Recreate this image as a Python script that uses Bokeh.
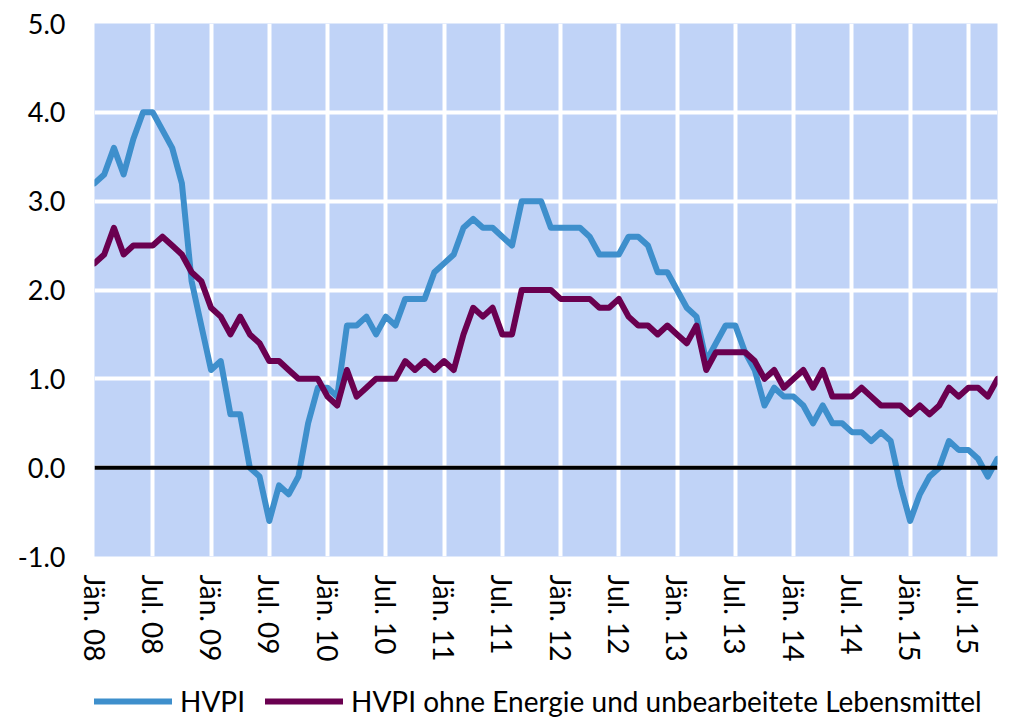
import math
from bokeh.plotting import figure
from bokeh.layouts import column
from bokeh.models import FixedTicker, Span, Legend, LegendItem, Range1d
from bokeh.embed import file_html
from bokeh.resources import INLINE

# Monthly values, Jan 2008 - Oct 2015 (annual change in %)
hvpi = [
    3.2, 3.3, 3.6, 3.3, 3.7, 4.0, 4.0, 3.8, 3.6, 3.2, 2.1, 1.6,
    1.1, 1.2, 0.6, 0.6, 0.0, -0.1, -0.6, -0.2, -0.3, -0.1, 0.5, 0.9,
    0.9, 0.8, 1.6, 1.6, 1.7, 1.5, 1.7, 1.6, 1.9, 1.9, 1.9, 2.2,
    2.3, 2.4, 2.7, 2.8, 2.7, 2.7, 2.6, 2.5, 3.0, 3.0, 3.0, 2.7,
    2.7, 2.7, 2.7, 2.6, 2.4, 2.4, 2.4, 2.6, 2.6, 2.5, 2.2, 2.2,
    2.0, 1.8, 1.7, 1.2, 1.4, 1.6, 1.6, 1.3, 1.1, 0.7, 0.9, 0.8,
    0.8, 0.7, 0.5, 0.7, 0.5, 0.5, 0.4, 0.4, 0.3, 0.4, 0.3, -0.2,
    -0.6, -0.3, -0.1, 0.0, 0.3, 0.2, 0.2, 0.1, -0.1, 0.1,
]
core = [
    2.3, 2.4, 2.7, 2.4, 2.5, 2.5, 2.5, 2.6, 2.5, 2.4, 2.2, 2.1,
    1.8, 1.7, 1.5, 1.7, 1.5, 1.4, 1.2, 1.2, 1.1, 1.0, 1.0, 1.0,
    0.8, 0.7, 1.1, 0.8, 0.9, 1.0, 1.0, 1.0, 1.2, 1.1, 1.2, 1.1,
    1.2, 1.1, 1.5, 1.8, 1.7, 1.8, 1.5, 1.5, 2.0, 2.0, 2.0, 2.0,
    1.9, 1.9, 1.9, 1.9, 1.8, 1.8, 1.9, 1.7, 1.6, 1.6, 1.5, 1.6,
    1.5, 1.4, 1.6, 1.1, 1.3, 1.3, 1.3, 1.3, 1.2, 1.0, 1.1, 0.9,
    1.0, 1.1, 0.9, 1.1, 0.8, 0.8, 0.8, 0.9, 0.8, 0.7, 0.7, 0.7,
    0.6, 0.7, 0.6, 0.7, 0.9, 0.8, 0.9, 0.9, 0.8, 1.0,
]
tick_labels = [
    "Jän. 08", "Jul. 08", "Jän. 09", "Jul. 09", "Jän. 10", "Jul. 10",
    "Jän. 11", "Jul. 11", "Jän. 12", "Jul. 12", "Jän. 13", "Jul. 13",
    "Jän. 14", "Jul. 14", "Jän. 15", "Jul. 15",
]
y_ticks = [-1, 0, 1, 2, 3, 4, 5]
series_names = ["HVPI", "HVPI ohne Energie und unbearbeitete Lebensmittel"]
colors = ["#3E8FCC", "#6A0050"]

FONT = "Lato"
LW = 6

x = list(range(len(hvpi)))
tick_pos = [i * 6 for i in range(len(tick_labels))]

p = figure(
    width=1022, height=666,
    output_backend="svg", toolbar_location=None,
    x_range=Range1d(0, len(hvpi) - 1), y_range=Range1d(-1, 5),
    min_border_left=94, min_border_top=23, min_border_right=25, min_border_bottom=110,
)
p.background_fill_color = "#C0D3F7"
p.border_fill_color = "white"
p.outline_line_color = None

p.xgrid.ticker = FixedTicker(ticks=tick_pos)
p.ygrid.ticker = FixedTicker(ticks=y_ticks)
for g in (p.xgrid, p.ygrid):
    g.grid_line_color = "white"
    g.grid_line_width = 4

p.xaxis.ticker = FixedTicker(ticks=tick_pos)
p.xaxis.major_label_overrides = {pos: lab for pos, lab in zip(tick_pos, tick_labels)}
p.xaxis.major_label_orientation = -math.pi / 2
p.yaxis.ticker = FixedTicker(ticks=y_ticks)
p.yaxis.major_label_overrides = {v: f"{v:.1f}" for v in y_ticks}
for ax in (p.xaxis[0], p.yaxis[0]):
    ax.axis_line_color = None
    ax.major_tick_line_color = None
    ax.minor_tick_line_color = None
    ax.major_tick_out = 0
    ax.major_tick_in = 0
    ax.major_label_text_font = FONT
    ax.major_label_text_color = "black"
p.xaxis.major_label_text_font_size = "28px"
p.yaxis.major_label_text_font_size = "27px"
p.xaxis.major_label_standoff = 18
p.yaxis.major_label_standoff = 29

p.add_layout(Span(location=0, dimension="width", line_color="black", line_width=4))

p.line(x, hvpi, line_color=colors[0], line_width=LW, line_join="round", line_cap="round")
p.line(x, core, line_color=colors[1], line_width=LW, line_join="round", line_cap="round")

# legend strip below the chart (same side borders as the chart)
q = figure(
    width=1022, height=52,
    output_backend="svg", toolbar_location=None,
    x_range=Range1d(0, len(hvpi) - 1), y_range=Range1d(100, 101),
    min_border_left=94, min_border_right=25, min_border_top=0, min_border_bottom=0,
    x_axis_location=None, y_axis_location=None,
)
q.grid.visible = False
q.outline_line_color = None
q.background_fill_color = "white"
q.border_fill_color = "white"
l1 = q.line(x, hvpi, line_color=colors[0], line_width=LW, line_cap="round")
l2 = q.line(x, core, line_color=colors[1], line_width=LW, line_cap="round")

legend = Legend(
    items=[LegendItem(label=series_names[0], renderers=[l1]),
           LegendItem(label=series_names[1], renderers=[l2])],
    orientation="horizontal", location=(0, 0),
    glyph_width=78, glyph_height=20, label_standoff=8, spacing=20,
    label_text_font=FONT, label_text_font_size="28px", label_text_color="black",
    border_line_color=None, background_fill_alpha=0,
    padding=0, margin=0,
)
q.add_layout(legend, "center")

open("out.html", "w").write(file_html(column(p, q), INLINE))
